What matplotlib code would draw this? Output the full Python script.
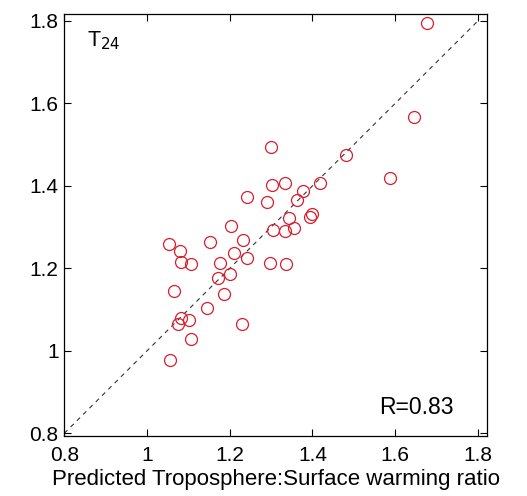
import matplotlib
matplotlib.use('Agg')
import matplotlib.pyplot as plt

plt.rcParams['font.family'] = ['Liberation Sans', 'DejaVu Sans']

# predicted vs. modelled troposphere:surface warming ratio
predicted = [1.677, 1.645, 1.587, 1.482, 1.418, 1.299, 1.303, 1.334, 1.241, 1.289,
             1.376, 1.363, 1.344, 1.393, 1.399, 1.356, 1.333, 1.305, 1.203, 1.152,
             1.232, 1.054, 1.079, 1.210, 1.241, 1.082, 1.107, 1.177, 1.297, 1.337,
             1.200, 1.172, 1.065, 1.187, 1.146, 1.081, 1.102, 1.075, 1.230, 1.107,
             1.056]
actual = [1.795, 1.566, 1.420, 1.476, 1.406, 1.495, 1.402, 1.408, 1.374, 1.361,
          1.387, 1.367, 1.322, 1.325, 1.333, 1.299, 1.291, 1.294, 1.303, 1.264,
          1.268, 1.258, 1.242, 1.238, 1.226, 1.215, 1.210, 1.213, 1.212, 1.210,
          1.187, 1.177, 1.144, 1.138, 1.105, 1.080, 1.074, 1.064, 1.064, 1.029,
          0.977]
one_to_one = [0.8, 1.8]
ticks = [0.8, 1.0, 1.2, 1.4, 1.6, 1.8]
tick_labels = ['0.8', '1', '1.2', '1.4', '1.6', '1.8']

fig = plt.figure(figsize=(5.27, 4.96), dpi=100)
ax = fig.add_axes([0.122, 0.121, 0.802, 0.850])

ax.plot(one_to_one, one_to_one, linestyle=(0, (4, 4)), color='#333333', linewidth=0.8)
ax.plot(predicted, actual, linestyle='none', marker='o', markersize=8.6,
        markerfacecolor='none', markeredgecolor='#dd1c2c', markeredgewidth=0.9)

ax.set_xlim(0.8, 1.822)
ax.set_ylim(0.7935, 1.816)
ax.set_xticks(ticks)
ax.set_xticklabels(tick_labels)
ax.set_yticks(ticks)
ax.set_yticklabels(tick_labels)
ax.tick_params(direction='in', top=True, right=True, length=5, width=0.8,
               labelsize=15, pad=4)
ax.tick_params(axis='x', pad=7)
for s in ax.spines.values():
    s.set_linewidth(0.9)

ax.text(0.053, 0.965, r'T$_{24}$', transform=ax.transAxes, fontsize=15.5,
        ha='left', va='top')
ax.text(0.92, 0.052, 'R=0.83', transform=ax.transAxes, fontsize=16.5,
        ha='right', va='baseline')
ax.set_xlabel('Predicted Troposphere:Surface warming ratio', fontsize=16, labelpad=3)

fig.savefig('out.png', dpi=100)
